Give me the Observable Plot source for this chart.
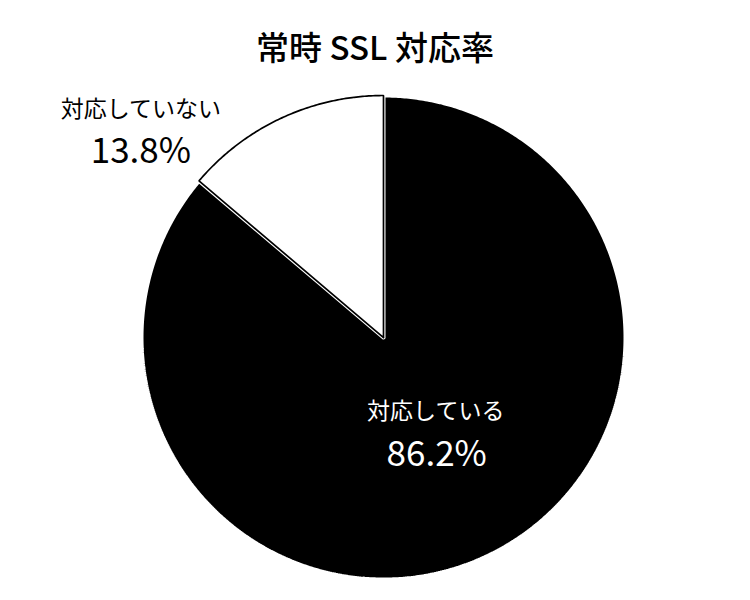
<!DOCTYPE html>
<html>
<head>
<meta charset="utf-8">
<script src="https://cdn.jsdelivr.net/npm/d3@7"></script>
<script src="https://cdn.jsdelivr.net/npm/@observablehq/plot@0.6"></script>
<style>
  html, body { margin: 0; padding: 0; background: #fff; }
  body { width: 750px; font-family: "Noto Sans CJK JP", "Noto Sans", sans-serif; }
  #title { height: 70px; box-sizing: border-box; padding-top: 30px; font-size: 33px; font-weight: 500; line-height: 1; text-align: center; color: #000; }
  #chart svg { display: block; }
</style>
</head>
<body>
<div id="title">常時 SSL 対応率</div>
<div id="chart"></div>
<script>
// Data
const categories = ["対応している", "対応していない"];
const shares = [86.2, 13.8];
const shareLabels = ["86.2%", "13.8%"];

// Geometry (unit radius in data space)
const W = 750, H = 530, R = 242, CX = 383, CY = 267;
const total = d3.sum(shares);
// Slice 0 (black) runs clockwise from 12 o'clock; slice 1 (white) fills the rest.
let start = 0;
const slices = shares.map((v, i) => {
  const a0 = start, a1 = start + v / total * 2 * Math.PI;
  start = a1;
  return {name: categories[i], label: shareLabels[i], a0, a1, mid: (a0 + a1) / 2};
});
function slicePoints(s) {
  const pts = [{x: 0, y: 0}];
  const n = Math.max(2, Math.ceil((s.a1 - s.a0) / (Math.PI / 360)));
  for (let k = 0; k <= n; k++) {
    const a = s.a0 + (s.a1 - s.a0) * k / n;
    pts.push({x: Math.sin(a), y: Math.cos(a)});
  }
  pts.push({x: 0, y: 0});
  return pts;
}
const blackPts = slicePoints(slices[0]);
const whitePts = slicePoints(slices[1]);
const anchor = (s, k) => [{x: k * Math.sin(s.mid), y: k * Math.cos(s.mid), name: s.name, label: s.label}];
const inLab = anchor(slices[0], 0.44);
const outLab = anchor(slices[1], 1.0);

const font = "Noto Sans CJK JP";
const chart = Plot.plot({
  width: W, height: H, margin: 0,
  x: {domain: [-CX / R, (W - CX) / R], axis: null},
  y: {domain: [-(H - CY) / R, CY / R], axis: null},
  marks: [
    Plot.line(whitePts, {x: "x", y: "y", fill: "white", stroke: "none"}),
    Plot.line(blackPts, {x: "x", y: "y", fill: "black", stroke: "white", strokeWidth: 4, strokeLinejoin: "miter"}),
    Plot.line(whitePts, {x: "x", y: "y", fill: "none", stroke: "black", strokeWidth: 1.7, strokeLinejoin: "miter", strokeLinecap: "square"}),
    Plot.text(inLab, {x: "x", y: "y", text: "name", fill: "white", fontSize: 23, fontFamily: font, dx: 7.5, dy: -23}),
    Plot.text(inLab, {x: "x", y: "y", text: "label", fill: "white", fontSize: 35, fontFamily: font, dx: 8.5, dy: 21}),
    Plot.text(outLab, {x: "x", y: "y", text: "name", fill: "black", fontSize: 23, fontFamily: font, dx: -141, dy: -8}),
    Plot.text(outLab, {x: "x", y: "y", text: "label", fill: "black", fontSize: 35, fontFamily: font, dx: -141, dy: 34})
  ]
});
document.getElementById("chart").appendChild(chart);
</script>
</body>
</html>
